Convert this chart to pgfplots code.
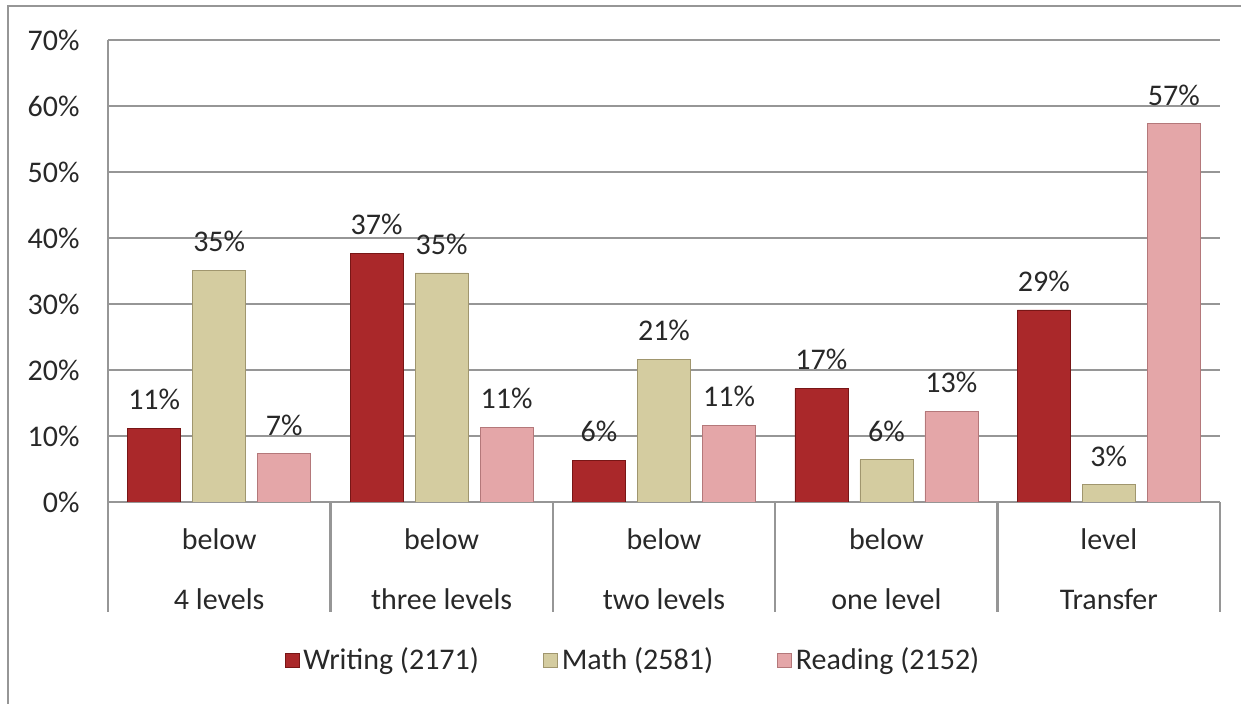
\documentclass[border=0pt]{standalone}
\usepackage{pgfplots}
\pgfplotsset{compat=1.18}
\usepackage{fontspec}
\setmainfont{Carlito}

\definecolor{writing}{RGB}{170,40,42}
\definecolor{writingedge}{RGB}{120,22,22}
\definecolor{math}{RGB}{212,204,160}
\definecolor{mathedge}{RGB}{160,150,110}
\definecolor{reading}{RGB}{228,166,168}
\definecolor{readingedge}{RGB}{180,120,122}
\definecolor{gridgray}{RGB}{150,150,150}
\definecolor{txt}{RGB}{40,40,40}

\begin{document}
\begin{tikzpicture}
  % page: 1241x704 px at 0.5pt per px, axis corner at the origin
  \path[use as bounding box] (-54pt,-101pt) rectangle (566.5pt,251pt);
  \draw[gridgray, line width=1.2pt] (-50pt,-102pt) -- (-50pt,248pt) -- (567pt,248pt);

  \begin{axis}[
      at={(0,0)}, anchor=south west,
      scale only axis,
      width=556pt, height=231pt,
      ybar=6pt, bar width=26.5pt,
      xmin=-0.5, xmax=4.5,
      ymin=0, ymax=70,
      ytick={0,10,...,70},
      yticklabel={\pgfmathprintnumber{\tick}\%},
      /pgf/number format/assume math mode=true,
      xtick={0,1,2,3,4},
      xticklabels={below\\4 levels, below\\three levels, below\\two levels,
                   below\\one level, level\\Transfer},
      major tick length=0pt,
      tick style={draw=none},
      extra x ticks={-0.5,0.5,1.5,2.5,3.5,4.5},
      extra x tick labels={},
      extra x tick style={major tick length=55pt, tick align=outside,
                          tick style={draw=gridgray, line width=1.2pt}},
      axis x line*=bottom, axis y line*=left,
      axis line style={gridgray, line width=1.2pt, -},
      ymajorgrids,
      grid style={gridgray, line width=1.2pt},
      font=\fontsize{15}{18}\selectfont,
      ticklabel style={text=txt},
      yticklabel style={inner sep=0pt, xshift=-14pt},
      xticklabel style={align=center, anchor=north, inner sep=0pt,
                        font=\fontsize{15}{30}\selectfont, yshift=-13pt},
      point meta=explicit symbolic,
      nodes near coords={\pgfplotspointmeta\%},
      every node near coord/.append style={text=txt, anchor=south,
                                           inner sep=0pt, yshift=9pt},
      legend columns=3,
      legend style={at={(0.473,-0.342)}, anchor=center, draw=none,
                    font=\fontsize{15}{18}\selectfont, text=txt,
                    /tikz/every even column/.append style={column sep=30pt}},
      legend image code/.code={\draw[#1] (0pt,-3.5pt) rectangle (7pt,3.5pt);},
    ]
    \addplot[fill=writing, draw=writingedge] coordinates
      {(0,11.2)[11] (1,37.7)[37] (2,6.3)[6] (3,17.2)[17] (4,29.1)[29]};
    \addplot[fill=math, draw=mathedge] coordinates
      {(0,35.1)[35] (1,34.7)[35] (2,21.6)[21] (3,6.4)[6] (4,2.6)[3]};
    \addplot[fill=reading, draw=readingedge] coordinates
      {(0,7.3)[7] (1,11.3)[11] (2,11.6)[11] (3,13.7)[13] (4,57.3)[57]};
    \legend{Writing (2171), Math (2581), Reading (2152)}
  \end{axis}
\end{tikzpicture}
\end{document}
